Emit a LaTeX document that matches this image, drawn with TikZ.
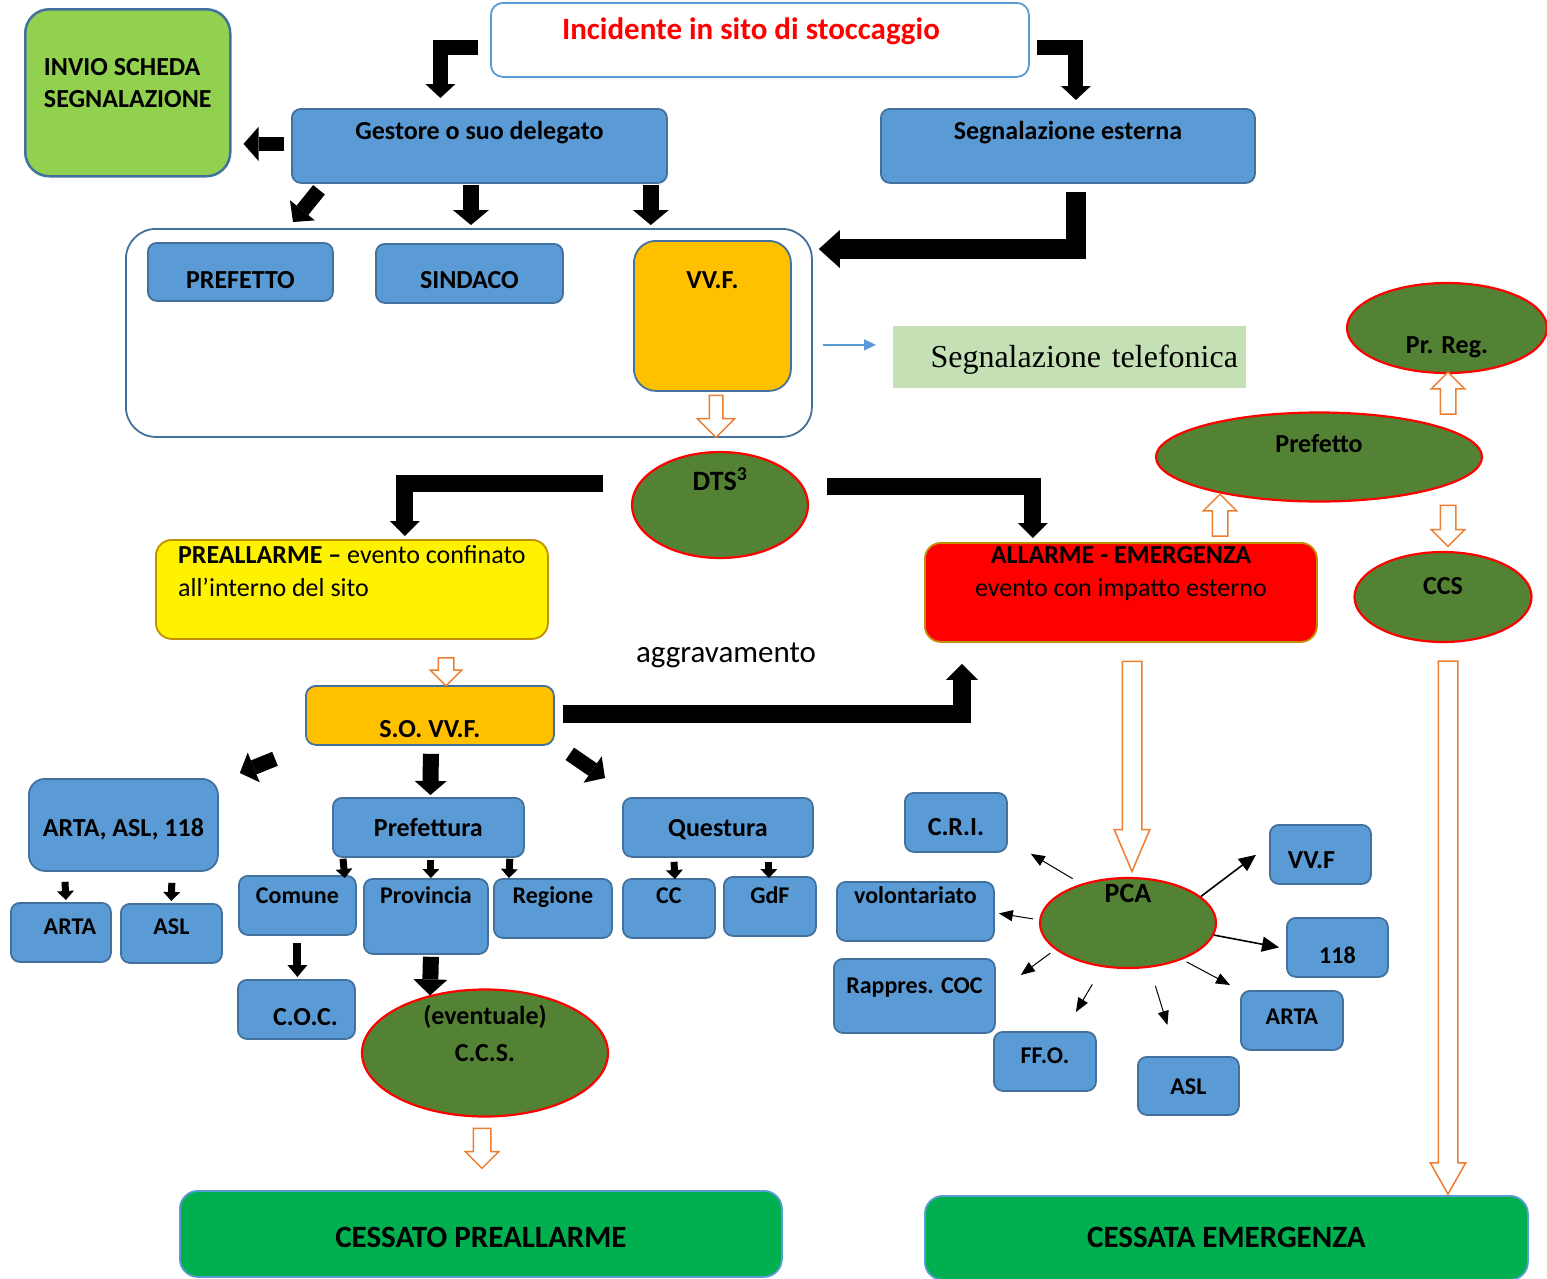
\documentclass[tikz,border=0pt]{standalone}
\usepackage{fontspec}
\setmainfont{Carlito}
\newfontfamily\telfont{Liberation Serif}
\usetikzlibrary{shapes.geometric, shapes.arrows, arrows.meta, calc}

\definecolor{boxblue}{HTML}{5B9BD5}
\definecolor{boxline}{HTML}{41719C}
\definecolor{invgreen}{HTML}{92D050}
\definecolor{vvforange}{HTML}{FFC000}
\definecolor{ovalgreen}{HTML}{548235}
\definecolor{goldline}{HTML}{BF9000}
\definecolor{telgreen}{HTML}{C5E0B4}
\definecolor{endgreen}{HTML}{00B050}
\definecolor{arroworange}{HTML}{ED7D31}

\tikzset{
  box/.style={draw=boxline, fill=boxblue, line width=1.8pt, rounded corners=9pt, anchor=north west,
    inner xsep=0pt, inner ysep=0pt, font=\bfseries\fontsize{26}{32}\selectfont},
  small/.style={font=\bfseries\fontsize{24}{29}\selectfont},
  oval/.style={ellipse, draw=red, fill=ovalgreen, line width=2.2pt, inner sep=0pt,
    font=\bfseries\fontsize{26}{37}\selectfont},
  hollow/.style={single arrow, draw=arroworange, fill=white, line width=1.5pt, inner xsep=0pt,
    single arrow head indent=0pt},
  fat/.style n args={3}{line width=#1pt, -{Triangle[width=#2pt,length=#3pt,line width=0pt]}},
  pcaarrow/.style={line width=1pt, -{Triangle[width=11pt,length=14pt]}},
  pcabold/.style={line width=1.6pt, -{Triangle[width=15pt,length=17pt]}},
  bluearrow/.style={draw=boxblue, line width=1.2pt, -{Triangle[width=11pt,length=12pt]}}
}

\begin{document}
\begin{tikzpicture}[x=1pt, y=-1pt]
\useasboundingbox (0,0) rectangle (1547,1278);

% top row
\node[box, fill=invgreen, line width=2.5pt, rounded corners=24pt, minimum width=205pt,
  text height=98pt, text depth=69pt, align=left] (invio) at (24,8) {INVIO SCHEDA\\SEGNALAZIONE};
\node[box, fill=white, draw=boxblue, rounded corners=12pt, minimum width=538pt,
  text height=37pt, text depth=37pt, text=red, font=\bfseries\fontsize{31}{37}\selectfont]
  (incid) at (490,2) {Incidente in sito di stoccaggio\hspace*{18pt}};
\node[box, minimum width=375pt, text height=31pt, text depth=43pt] (gestore) at (291,108) {Gestore o suo delegato};
\node[box, minimum width=374pt, text height=31pt, text depth=43pt] (esterna) at (880,108) {Segnalazione esterna};

% enti avvisati dal gestore
\node[box, fill=white, rounded corners=30pt, minimum width=686pt, minimum height=208pt] (site) at (125,228) {};
\node[box, minimum width=185pt, text height=46pt, text depth=12pt] (prefetto) at (147,242) {PREFETTO};
\node[box, minimum width=187pt, text height=45pt, text depth=14pt] (sindaco) at (375,243) {SINDACO};
\node[box, fill=vvforange, rounded corners=22pt, minimum width=157pt, text height=48pt, text depth=102pt]
  (vvf) at (633,240) {VV.F.};
\node[box, draw=none, fill=telgreen, rounded corners=0pt, text width=337pt, inner xsep=8pt, align=right,
  text height=42pt, text depth=20pt, font=\telfont\fontsize{32}{38}\selectfont]
  (tel) at (892,325) {Segnalazione telefonica};

% DTS e livelli di allerta
\node[oval, minimum width=176pt, minimum height=106pt, text height=5pt, text depth=35pt,
  font=\bfseries\fontsize{28}{34}\selectfont] (dts) at (720,505) {DTS\textsuperscript{3}};
\node[box, fill=yellow, draw=goldline, rounded corners=16pt, minimum width=392pt,
  text height=57pt, text depth=42pt, align=left, font=\fontsize{26}{33}\selectfont]
  (prea) at (155,539) {\textbf{PREALLARME –} evento confinato\\all’interno del sito};
\node[box, fill=red, draw=goldline, rounded corners=16pt, minimum width=392pt,
  text height=54pt, text depth=45pt, align=center, font=\fontsize{26}{33}\selectfont]
  (allarme) at (924,542) {\textbf{ALLARME - EMERGENZA}\\evento con impatto esterno};
\node[oval, minimum width=326pt, minimum height=89pt, text height=5pt, text depth=15pt] (prefR) at (1319,457) {Prefetto};
\node[oval, minimum width=200pt, minimum height=90pt, text height=55pt, text depth=5pt] (prreg) at (1447,328) {Pr. Reg.};
\node[oval, minimum width=177pt, minimum height=90pt, text height=5pt, text depth=11pt] (ccs) at (1443,597) {CCS};
\node[anchor=base, font=\fontsize{31}{37}\selectfont] (aggr) at (726,662) {aggravamento};

% preallarme
\node[box, fill=vvforange, rounded corners=10pt, minimum width=248pt, text height=52pt, text depth=7pt]
  (sovvf) at (305,685) {S.O. VV.F.};
\node[box, rounded corners=16pt, minimum width=189pt, text height=58pt, text depth=34pt] (artaasl) at (28,778) {ARTA, ASL, 118};
\node[box, small, minimum width=100pt, text height=32pt, text depth=27pt] (arta1) at (10,902) {\hspace*{18pt}ARTA};
\node[box, small, minimum width=101pt, text height=31pt, text depth=28pt] (asl1) at (120,903) {ASL};
\node[box, minimum width=191pt, text height=39pt, text depth=20pt] (prefura) at (332,797) {Prefettura};
\node[box, small, minimum width=117pt, text height=28pt, text depth=31pt] (comune) at (238,875) {Comune};
\node[box, small, minimum width=124pt, text height=25pt, text depth=50pt] (provincia) at (363,878) {Provincia};
\node[box, small, minimum width=118pt, text height=25pt, text depth=34pt] (regione) at (493,878) {Regione};
\node[box, minimum width=117pt, text height=46pt, text depth=13pt] (coc) at (237,979) {\hspace*{18pt}C.O.C.};
\node[oval, minimum width=246pt, minimum height=127pt, text height=5pt, text depth=63pt, text width=150pt,
  align=center] (ccsev) at (485,1053) {(eventuale)\\C.C.S.};
\node[box, minimum width=190pt, text height=39pt, text depth=20pt] (questura) at (622,797) {Questura};
\node[box, small, minimum width=92pt, text height=25pt, text depth=34pt] (cc) at (622,878) {CC};
\node[box, small, minimum width=92pt, text height=27pt, text depth=32pt] (gdf) at (723,876) {GdF};

% emergenza: PCA
\node[oval, minimum width=176pt, minimum height=90pt, text height=5pt, text depth=47pt,
  font=\bfseries\fontsize{28}{34}\selectfont] (pca) at (1128,923) {PCA};
\node[box, minimum width=102pt, text height=43pt, text depth=16pt] (cri) at (904,792) {C.R.I.};
\node[box, minimum width=101pt, text height=44pt, text depth=15pt] (vvfR) at (1269,824) {VV.F\hspace*{18pt}};
\node[box, small, minimum width=157pt, text height=22pt, text depth=37pt] (volont) at (836,881) {volontariato};
\node[box, small, minimum width=101pt, text height=46pt, text depth=13pt] (n118) at (1286,917) {118};
\node[box, small, minimum width=161pt, text height=35pt, text depth=39pt] (rappres) at (833,958) {Rappres. COC};
\node[box, small, minimum width=102pt, text height=34pt, text depth=25pt] (arta2) at (1240,990) {ARTA};
\node[box, small, minimum width=102pt, text height=32pt, text depth=27pt] (ffo) at (993,1031) {FF.O.};
\node[box, small, minimum width=101pt, text height=38pt, text depth=20pt] (asl2) at (1137,1056) {ASL};

% fine evento
\node[box, fill=endgreen, draw=boxblue, rounded corners=18pt, minimum width=602pt, text height=57pt,
  text depth=29pt, font=\bfseries\fontsize{31}{37}\selectfont] (cessP) at (179,1190) {CESSATO PREALLARME};
\node[box, fill=endgreen, draw=boxblue, rounded corners=18pt, minimum width=603pt, text height=52pt,
  text depth=32pt, font=\bfseries\fontsize{31}{37}\selectfont] (cessE) at (924,1195) {CESSATA EMERGENZA};

% frecce vuote arancioni
\node[hollow, rotate=-90, minimum height=42pt, inner ysep=6pt, single arrow head extend=12pt] (h1) at (716,413) {};
\node[hollow, rotate=-90, minimum height=28pt, inner ysep=7pt, single arrow head extend=8pt] (h2) at (446,668) {};
\node[hollow, rotate=-90, minimum height=40pt, inner ysep=8pt, single arrow head extend=8pt] (h3) at (482,1144) {};
\node[hollow, rotate=90, minimum height=42pt, inner ysep=7pt, single arrow head extend=9pt] (h4) at (1220,519) {};
\node[hollow, rotate=90, minimum height=42pt, inner ysep=7pt, single arrow head extend=9pt] (h5) at (1448,397) {};
\node[hollow, rotate=-90, minimum height=41pt, inner ysep=7pt, single arrow head extend=9pt] (h6) at (1448,522) {};
\node[hollow, rotate=-90, minimum height=210pt, inner ysep=9pt, single arrow head extend=8pt,
  single arrow tip angle=46] (h7) at (1132,755) {};
\node[hollow, rotate=-90, minimum height=533pt, inner ysep=9pt, single arrow head extend=8pt,
  single arrow tip angle=59] (h8) at (1448,919) {};

% frecce nere
\draw[fat={15}{30}{14}] ($(incid.west)+(-12,8)$) -| ($(gestore.north)+(-39,-10)$);
\draw[fat={15}{30}{14}] ($(incid.east)+(7,8)$) -| ($(esterna.north)+(8,-8)$);
\draw[fat={14}{34}{15}, shorten <=7pt, shorten >=12pt] ($(gestore.west)+(0,-2)$) -- ($(gestore.west -| invio.east)+(0,-2)$);
\draw[fat={15}{32}{15}] ($(gestore.south west)+(28,6)$) -- ($(site.north west)+(168,-6)$);
\draw[fat={16}{36}{15}] ($(gestore.south)+(-8.5,1)$) -- ($(site.north)+(2,-3)$);
\draw[fat={16}{36}{15}] ($(gestore.south east)+(-17,1)$) -- ($(site.north east)+(-162,-3)$);
\draw[fat={20}{38}{21}] ($(esterna.south)+(8,8)$) |- ($(site.north east)+(6,21)$);
\draw[fat={17}{30}{15}] ($(dts.west)+(-28,-22)$) -| ($(prea.north)+(53,-3)$);
\draw[fat={17}{30}{15}] ($(dts.east)+(18,-19)$) -| ($(allarme.north)+(-88,-4)$);
\draw[fat={18}{32}{16}] ($(sovvf.east)+(8,-1)$) -| ($(allarme.south west)+(38,21)$);
\draw[fat={16}{32}{14}] ($(sovvf.south)+(1,8)$) -- ($(prefura.north)+(2,-2)$);
\draw[fat={15}{32}{15}] ($(sovvf.south west)+(-30,13)$) -- ($(artaasl.north east)+(21,-5)$);
\draw[fat={15}{32}{15}] ($(sovvf.south east)+(15,8)$) -- ($(questura.north west)+(-17,-19)$);
\draw[fat={16}{34}{16}] ($(provincia.south)+(5,2)$) -- ($(ccsev.north)+(-55,7)$);
\draw[fat={8}{20}{12}] ($(comune.south)+(0,7)$) -- ($(coc.north)+(1,-2)$);
\draw[fat={7}{17}{9}] ($(artaasl.south west)+(37,10)$) -- ($(arta1.north)+(5,-2)$);
\draw[fat={7}{17}{9}] ($(artaasl.south east)+(-47,11)$) -- ($(asl1.north)+(0,-2)$);
\draw[fat={7}{17}{9}] ($(prefura.south west)+(11,1)$) -- ($(comune.north east)+(-12,3)$);
\draw[fat={7}{17}{9}] ($(prefura.south)+(2.5,2)$) -- ($(provincia.north)+(5,0)$);
\draw[fat={7}{17}{9}] ($(prefura.south east)+(-15,1)$) -- ($(regione.north)+(-44,0)$);
\draw[fat={7}{17}{9}] ($(questura.south west)+(52,4)$) -- ($(cc.north)+(6,1)$);
\draw[fat={7}{17}{9}] ($(questura.south)+(51,4)$) -- ($(gdf.north)+(-1,2)$);

% segnalazione telefonica
\draw[bluearrow] ($(site.east)+(10,12)$) -- ($(tel.west)+(-16,-12)$);

% frecce dal PCA
\draw[pcaarrow, shorten <=10pt] (pca.140) -- ($(cri.south east)+(23,1)$);
\draw[pcaarrow, shorten <=6pt] (pca.178) -- ($(volont.east)+(4,2)$);
\draw[pcaarrow, shorten <=6pt] (pca.200) -- ($(rappres.north east)+(25,17)$);
\draw[pcaarrow, shorten <=20pt] (pca.240) -- ($(ffo.north)+(31,-19)$);
\draw[pcaarrow, shorten <=19pt] (pca.296) -- ($(asl2.north)+(-21,-31)$);
\draw[pcaarrow, shorten <=5pt] (pca.326) -- ($(arta2.north west)+(-10,-5)$);
\draw[pcabold] (pca.20) -- ($(vvfR.south west)+(-13,-30)$);
\draw[pcabold] (pca.352) -- ($(n118.west)+(-7,0)$);
\end{tikzpicture}
\end{document}
